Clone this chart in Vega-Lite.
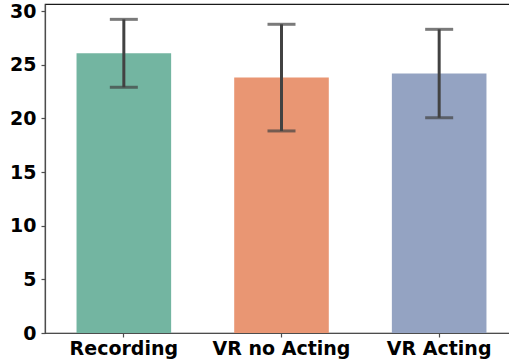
{
  "$schema": "https://vega.github.io/schema/vega-lite/v6.json",
  "autosize": {"type": "none"},
  "padding": {"left": 45, "top": 4, "right": 0, "bottom": 31},
  "width": 473,
  "height": 329,
  "background": "white",
  "config": {
    "view": {"stroke": "#1a1a1a", "strokeWidth": 1.2},
    "font": "DejaVu Sans",
    "axis": {
      "grid": false,
      "domainColor": "#4d4d4d",
      "domainWidth": 1.2,
      "tickColor": "#4d4d4d",
      "tickSize": 4,
      "tickWidth": 1.2,
      "labelFont": "DejaVu Sans",
      "labelFontWeight": "bold",
      "labelFontSize": 19,
      "labelColor": "black",
      "title": null
    }
  },
  "data": {
    "values": [
      {"group": "Recording", "mean": 26.07, "lo": 22.9, "hi": 29.23},
      {"group": "VR no Acting", "mean": 23.8, "lo": 18.83, "hi": 28.77},
      {"group": "VR Acting", "mean": 24.18, "lo": 20.06, "hi": 28.3}
    ]
  },
  "encoding": {
    "x": {
      "field": "group",
      "type": "nominal",
      "sort": ["Recording", "VR no Acting", "VR Acting"],
      "scale": {"paddingInner": 0.4, "paddingOuter": 0.2},
      "axis": {"labelAngle": 0, "labelPadding": 2, "title": null}
    }
  },
  "layer": [
    {
      "mark": {"type": "bar"},
      "encoding": {
        "y": {
          "field": "mean",
          "type": "quantitative",
          "scale": {"domain": [0, 30.66], "nice": false, "zero": true},
          "axis": {"values": [0, 5, 10, 15, 20, 25, 30], "labelPadding": 5, "title": null}
        },
        "color": {
          "field": "group",
          "type": "nominal",
          "scale": {
            "domain": ["Recording", "VR no Acting", "VR Acting"],
            "range": ["#73b5a1", "#e99673", "#94a3c2"]
          },
          "legend": null
        }
      }
    },
    {
      "mark": {"type": "rule", "color": "#424242", "strokeWidth": 3},
      "encoding": {
        "y": {"field": "lo", "type": "quantitative"},
        "y2": {"field": "hi"}
      }
    },
    {
      "mark": {"type": "tick", "color": "#424242", "thickness": 3, "size": 28},
      "encoding": {"y": {"field": "lo", "type": "quantitative"}}
    },
    {
      "mark": {"type": "tick", "color": "#424242", "thickness": 3, "size": 28},
      "encoding": {"y": {"field": "hi", "type": "quantitative"}}
    }
  ]
}
